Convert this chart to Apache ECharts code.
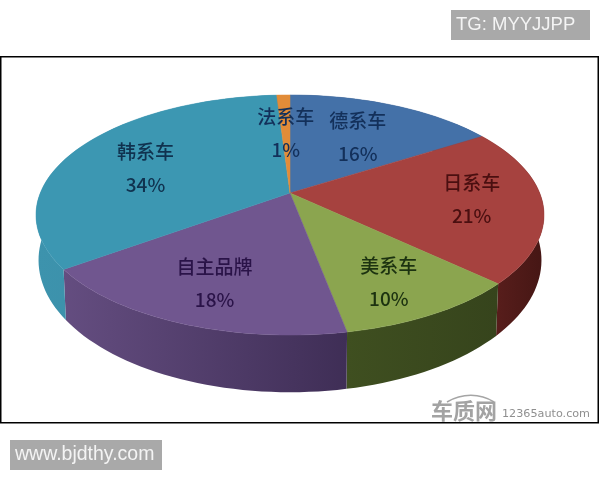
<!DOCTYPE html>
<html><head><meta charset="utf-8">
<style>html,body{margin:0;padding:0;background:#fff}#c{width:600px;height:480px}</style>
<script src="https://cdn.jsdelivr.net/npm/echarts@6/dist/echarts.min.js"></script>
</head><body><div id="c"></div>
<script>
const categories = ['德系车','日系车','美系车','自主品牌','韩系车','法系车'];
const shares = [16,21,10,18,34,1];
const topColors = ['#4471a8','#a6423f','#8ba54f','#70568f','#3c97b2','#e28c38'];
const wallColors = [
  ['#2c4a70','#2c4a70'],['#5e201e','#451614'],['#3f4f20','#36441c'],
  ['#644d80','#3f2e56'],['#3d93ad','#3a8aa3'],['#a86420','#a86420']
];
const labelColors = ['#13305a','#4a0f10','#1c3210','#2a1348','#10324f','#13305a'];
const labelNudge = [[2,-1],[31,-1],[19,21],[-14,18],[-15,3],[0,2]];

// perspective projection of the pie's plane
const CX=290, CY=193, KX=249.7, KY=116, A=0.1833;
function project(frac,r){
  const t=frac*2*Math.PI, s=Math.sin(t), d=Math.cos(t), den=1+A*r*d;
  return [CX+KX*r*s/den, CY-KY*r*d/den];
}
function lower(p){ return [CX+(p[0]-CX)*0.99, 236+(p[1]-CY)*1.1]; }
const total = shares.reduce((a,b)=>a+b,0);
const starts = shares.map((_,i)=>shares.slice(0,i).reduce((a,b)=>a+b,0)/total);
function rim(i){
  const out=[], n=Math.max(4,Math.round(shares[i]*2));
  for(let k=0;k<=n;k++) out.push(project(starts[i]+shares[i]/total*k/n,1));
  return out;
}
const chart = echarts.init(document.getElementById('c'),null,{renderer:'canvas'});
const items = shares.map((v,i)=>({name:categories[i],value:v}));
const labelStyle = (text,x,y,fill)=>({text,x,y,align:'center',verticalAlign:'middle',
  fontFamily:'Noto Sans CJK SC',fontSize:19,fontWeight:500,fill});
chart.setOption({
  animation:false,
  backgroundColor:'#fff',
  series:[
    {type:'custom',coordinateSystem:'none',silent:true,z:2,data:items,
     renderItem(p){
       const i=p.dataIndex, r=rim(i);
       return {type:'polygon',shape:{points:r.concat(r.map(lower).reverse())},
         style:{fill:new echarts.graphic.LinearGradient(0,0,1,0,[
           {offset:0,color:wallColors[i][0]},{offset:1,color:wallColors[i][1]}])}};
     }},
    {type:'custom',coordinateSystem:'none',silent:true,z:3,data:items,
     renderItem(p){
       const i=p.dataIndex;
       return {type:'polygon',shape:{points:[[CX,CY]].concat(rim(i))},
         style:{fill:topColors[i],stroke:topColors[i],lineWidth:0.5}};
     }},
    {type:'custom',coordinateSystem:'none',silent:true,z:4,data:items,
     renderItem(p){
       const i=p.dataIndex;
       const b=project(starts[i]+shares[i]/total/2,0.6);
       const x=b[0]+labelNudge[i][0], y=b[1]+labelNudge[i][1];
       return {type:'group',children:[
         {type:'text',style:labelStyle(categories[i],x,y-16,labelColors[i])},
         {type:'text',style:labelStyle(Math.round(shares[i]/total*100)+'%',x,y+17,labelColors[i])}
       ]};
     }}
  ],
  graphic:[
    {type:'rect',z:1,shape:{x:0.75,y:56.75,width:597.5,height:366},style:{fill:'#fff',stroke:'#000',lineWidth:1.5}},
    {type:'rect',z:5,shape:{x:451,y:10,width:139,height:30},style:{fill:'#a9a9a9'}},
    {type:'text',z:6,style:{text:'TG: MYYJJPP',x:456,y:25,verticalAlign:'middle',fontFamily:'Liberation Sans',fontSize:18.5,fill:'#f4f4f4'}},
    {type:'rect',z:5,shape:{x:10,y:440,width:152,height:30},style:{fill:'#a9a9a9'}},
    {type:'text',z:6,style:{text:'www.bjdthy.com',x:15,y:455,verticalAlign:'middle',fontFamily:'Liberation Sans',fontSize:19.5,fill:'#f4f4f4'}},
    {type:'text',z:6,style:{text:'车质网',x:431,y:411,verticalAlign:'middle',fontFamily:'Noto Sans CJK SC',fontWeight:'bold',fontSize:22,fill:'#a3a3a3'}},
    {type:'bezierCurve',z:6,shape:{x1:447,y1:402,cpx1:462,cpy1:393,cpx2:480,cpy2:393,x2:494,y2:402},style:{fill:'none',stroke:'#a5a5a5',lineWidth:1.5}},
    {type:'text',z:6,style:{text:'12365auto.com',x:502,y:414,verticalAlign:'middle',fontFamily:'DejaVu Sans',fontSize:11.2,fill:'#8f8f8f'}}
  ]
});
</script></body></html>
